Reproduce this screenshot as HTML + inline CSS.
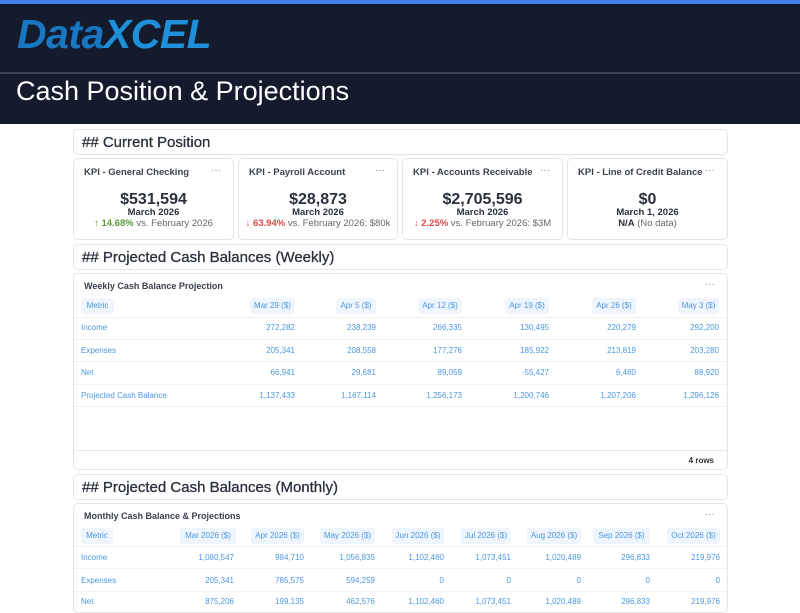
<!DOCTYPE html>
<html><head><meta charset="utf-8"><style>
*{margin:0;padding:0;box-sizing:border-box}
body{width:800px;height:600px;overflow:hidden;background:#fff;font-family:"Liberation Sans",sans-serif;position:relative}
.a{position:absolute}
.card{position:absolute;border:1px solid #e3e5e8;border-radius:5px;background:#fff}
.sec{font-size:15px;color:#2a313b;font-weight:normal;-webkit-text-stroke:0.3px #2a313b}
.kt{font-size:9.5px;color:#3a414b;font-weight:bold}
.dots{position:absolute;font-size:10px;color:#888;letter-spacing:0}
.big{position:absolute;left:0;right:0;text-align:center;font-size:16px;color:#2a313b;font-weight:bold}
.sub{position:absolute;left:0;right:0;text-align:center;font-size:9.5px;color:#2a313b;font-weight:bold}
.cmp{position:absolute;left:0;right:0;text-align:center;font-size:9.5px;color:#666}
.pill{position:absolute;height:16px;line-height:16px;background:#eef5fd;color:#4c97e0;font-size:8px;border-radius:3px;text-align:center}
.v{position:absolute;font-size:8px;color:#4c97e0;text-align:right}
.lb{position:absolute;font-size:8px;color:#4c97e0}
.hl{position:absolute;height:1px;background:#eef0f2}
</style></head><body>
<div class="a" style="left:0;top:0;width:800px;height:4px;background:#3f82ea"></div>
<div class="a" style="left:0;top:4px;width:800px;height:120px;background:#131b2c"></div>
<div class="a" style="left:0;top:72px;width:800px;height:2px;background:#3a4356"></div>
<div class="a" style="left:17px;top:11px;font-size:41px;font-weight:bold;font-style:italic;color:#1877c0;letter-spacing:-0.5px">Data<span style="color:#1e8fd8">XCEL</span></div>
<div class="a" style="left:16px;top:76px;font-size:27px;color:#fff">Cash Position &amp; Projections</div>

<div class="card" style="left:73px;top:129px;width:655px;height:26px"><div class="sec a" style="left:8px;top:4px">## Current Position</div></div>

<div class="card" style="left:73px;top:158px;width:161px;height:82px"><div class="kt a" style="left:10px;top:8px">KPI - General Checking</div><div class="dots" style="right:12px;top:6px">···</div>
<div class="big" style="top:32px">$531,594</div><div class="sub" style="top:48px">March 2026</div><div class="cmp" style="top:59px"><span style="color:#5a9a3a">↑ <b>14.68%</b></span> vs. February 2026</div></div>
<div class="card" style="left:238px;top:158px;width:160px;height:82px"><div class="kt a" style="left:10px;top:8px">KPI - Payroll Account</div><div class="dots" style="right:12px;top:6px">···</div>
<div class="big" style="top:32px">$28,873</div><div class="sub" style="top:48px">March 2026</div><div class="cmp" style="top:59px"><span style="color:#e04848">↓ <b>63.94%</b></span> vs. February 2026: $80k</div></div>
<div class="card" style="left:402px;top:158px;width:161px;height:82px"><div class="kt a" style="left:10px;top:8px">KPI - Accounts Receivable</div><div class="dots" style="right:12px;top:6px">···</div>
<div class="big" style="top:32px">$2,705,596</div><div class="sub" style="top:48px">March 2026</div><div class="cmp" style="top:59px"><span style="color:#e04848">↓ <b>2.25%</b></span> vs. February 2026: $3M</div></div>
<div class="card" style="left:567px;top:158px;width:161px;height:82px"><div class="kt a" style="left:10px;top:8px">KPI - Line of Credit Balance</div><div class="dots" style="right:12px;top:6px">···</div>
<div class="big" style="top:32px">$0</div><div class="sub" style="top:48px">March 1, 2026</div><div class="cmp" style="top:59px"><b style="color:#2a313b">N/A</b> (No data)</div></div>

<div class="card" style="left:73px;top:244px;width:655px;height:26px"><div class="sec a" style="left:8px;top:4px">## Projected Cash Balances (Weekly)</div></div>

<div class="card" style="left:73px;top:273px;width:655px;height:197px">
<div class="kt a" style="left:10px;top:7px;font-size:9px">Weekly Cash Balance Projection</div><div class="dots" style="right:12px;top:5px">···</div>
</div>
<div class="pill" style="left:81px;top:298px;width:33px">Metric</div>
<div class="pill" style="left:250px;top:298px;width:45px">Mar 29 ($)</div>
<div class="pill" style="left:336px;top:298px;width:40px">Apr 5 ($)</div>
<div class="pill" style="left:418px;top:298px;width:44px">Apr 12 ($)</div>
<div class="pill" style="left:505px;top:298px;width:44px">Apr 19 ($)</div>
<div class="pill" style="left:592px;top:298px;width:44px">Apr 26 ($)</div>
<div class="pill" style="left:678px;top:298px;width:41px">May 3 ($)</div>
<div class="hl" style="left:74px;top:317px;width:653px"></div>
<div class="hl" style="left:74px;top:339px;width:653px"></div>
<div class="hl" style="left:74px;top:361px;width:653px"></div>
<div class="hl" style="left:74px;top:384px;width:653px"></div>
<div class="hl" style="left:74px;top:406px;width:653px"></div>
<div class="hl" style="left:74px;top:450px;width:653px;background:#e6e8eb"></div>
<div class="a" style="right:86px;top:456px;font-size:8px;color:#333;font-weight:bold">4 rows</div>

<div class="lb" style="left:81px;top:323px">Income</div>
<div class="lb" style="left:81px;top:346px">Expenses</div>
<div class="lb" style="left:81px;top:368px">Net</div>
<div class="lb" style="left:81px;top:391px">Projected Cash Balance</div>

<div class="v" style="right:505px;top:323px">272,282</div><div class="v" style="right:424px;top:323px">238,239</div><div class="v" style="right:338px;top:323px">266,335</div><div class="v" style="right:251px;top:323px">130,495</div><div class="v" style="right:164px;top:323px">220,279</div><div class="v" style="right:81px;top:323px">292,200</div>
<div class="v" style="right:505px;top:346px">205,341</div><div class="v" style="right:424px;top:346px">208,558</div><div class="v" style="right:338px;top:346px">177,276</div><div class="v" style="right:251px;top:346px">185,922</div><div class="v" style="right:164px;top:346px">213,819</div><div class="v" style="right:81px;top:346px">203,280</div>
<div class="v" style="right:505px;top:368px">66,941</div><div class="v" style="right:424px;top:368px">29,681</div><div class="v" style="right:338px;top:368px">89,059</div><div class="v" style="right:251px;top:368px">-55,427</div><div class="v" style="right:164px;top:368px">6,460</div><div class="v" style="right:81px;top:368px">88,920</div>
<div class="v" style="right:505px;top:391px">1,137,433</div><div class="v" style="right:424px;top:391px">1,167,114</div><div class="v" style="right:338px;top:391px">1,256,173</div><div class="v" style="right:251px;top:391px">1,200,746</div><div class="v" style="right:164px;top:391px">1,207,206</div><div class="v" style="right:81px;top:391px">1,296,126</div>

<div class="card" style="left:73px;top:474px;width:655px;height:26px"><div class="sec a" style="left:8px;top:4px">## Projected Cash Balances (Monthly)</div></div>

<div class="card" style="left:73px;top:503px;width:655px;height:110px">
<div class="kt a" style="left:10px;top:7px;font-size:9px">Monthly Cash Balance &amp; Projections</div><div class="dots" style="right:12px;top:5px">···</div>
</div>
<div class="pill" style="left:81px;top:528px;width:32px">Metric</div>
<div class="pill" style="left:180px;top:528px;width:56px">Mar 2026 ($)</div>
<div class="pill" style="left:251px;top:528px;width:53px">Apr 2026 ($)</div>
<div class="pill" style="left:320px;top:528px;width:55px">May 2026 ($)</div>
<div class="pill" style="left:392px;top:528px;width:52px">Jun 2026 ($)</div>
<div class="pill" style="left:461px;top:528px;width:50px">Jul 2026 ($)</div>
<div class="pill" style="left:527px;top:528px;width:54px">Aug 2026 ($)</div>
<div class="pill" style="left:593px;top:528px;width:57px">Sep 2026 ($)</div>
<div class="pill" style="left:667px;top:528px;width:53px">Oct 2026 ($)</div>
<div class="hl" style="left:74px;top:546px;width:653px"></div>
<div class="hl" style="left:74px;top:568px;width:653px"></div>
<div class="hl" style="left:74px;top:591px;width:653px"></div>
<div class="lb" style="left:81px;top:553px">Income</div>
<div class="lb" style="left:81px;top:576px">Expenses</div>
<div class="lb" style="left:81px;top:597px">Net</div>
<div class="v" style="right:566px;top:553px">1,080,547</div><div class="v" style="right:496px;top:553px">984,710</div><div class="v" style="right:425px;top:553px">1,056,835</div><div class="v" style="right:356px;top:553px">1,102,460</div><div class="v" style="right:289px;top:553px">1,073,451</div><div class="v" style="right:219px;top:553px">1,020,489</div><div class="v" style="right:150px;top:553px">296,833</div><div class="v" style="right:80px;top:553px">219,976</div>
<div class="v" style="right:566px;top:576px">205,341</div><div class="v" style="right:496px;top:576px">785,575</div><div class="v" style="right:425px;top:576px">594,259</div><div class="v" style="right:356px;top:576px">0</div><div class="v" style="right:289px;top:576px">0</div><div class="v" style="right:219px;top:576px">0</div><div class="v" style="right:150px;top:576px">0</div><div class="v" style="right:80px;top:576px">0</div>
<div class="v" style="right:566px;top:597px">875,206</div><div class="v" style="right:496px;top:597px">199,135</div><div class="v" style="right:425px;top:597px">462,576</div><div class="v" style="right:356px;top:597px">1,102,460</div><div class="v" style="right:289px;top:597px">1,073,451</div><div class="v" style="right:219px;top:597px">1,020,489</div><div class="v" style="right:150px;top:597px">296,833</div><div class="v" style="right:80px;top:597px">219,976</div>
</body></html>
